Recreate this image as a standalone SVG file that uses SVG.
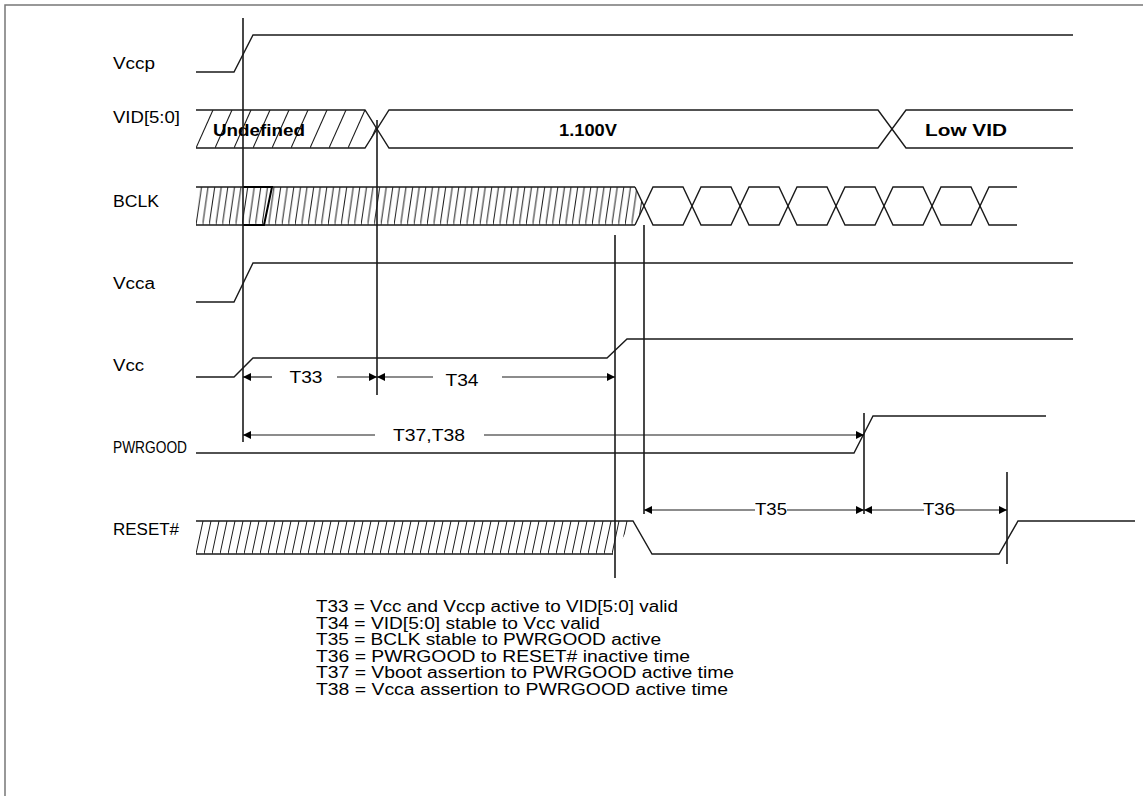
<svg xmlns="http://www.w3.org/2000/svg" width="1143" height="796" viewBox="0 0 1143 796">
<style>
  .sig{fill:none;stroke:#1a1a1a;stroke-width:1.4}
  .mk{fill:none;stroke:#1a1a1a;stroke-width:1.6}
  .dim{fill:none;stroke:#1a1a1a;stroke-width:1.2}
  .arr{marker-start:url(#ah);}
  .arre{marker-end:url(#ah);}
  text{font-family:"Liberation Sans",Arial,sans-serif;fill:#000}
  .lbl{font-size:16px}
  .val{font-size:17px;font-weight:bold}
  .dl{font-size:16px;text-anchor:middle}
  .leg{font-size:16px}
</style>
<defs>
  <marker id="ah" viewBox="0 0 10 10" refX="10" refY="5" markerWidth="8" markerHeight="8" markerUnits="userSpaceOnUse" orient="auto-start-reverse">
    <path d="M0,0 L10,5 L0,10 z" fill="#000"/>
  </marker>
  <pattern id="hVID" patternUnits="userSpaceOnUse" x="196" y="110" width="19" height="38">
    <line x1="0" y1="38" x2="17" y2="0" stroke="#1a1a1a" stroke-width="1.1"/>
  </pattern>
  <pattern id="hBCLK" patternUnits="userSpaceOnUse" x="196" y="187" width="6.6" height="38">
    <line x1="0" y1="38" x2="5.5" y2="0" stroke="#1a1a1a" stroke-width="1"/>
  </pattern>
  <pattern id="hRST" patternUnits="userSpaceOnUse" x="196" y="521" width="8" height="33">
    <line x1="0" y1="33" x2="7" y2="0" stroke="#1a1a1a" stroke-width="1"/>
  </pattern>
</defs>
<rect x="5" y="5" width="1160" height="810" fill="#fff" stroke="#777" stroke-width="1.5"/>

<g id="Vccp">
  <text class="lbl" x="113" y="69" textLength="42" lengthAdjust="spacingAndGlyphs">Vccp</text>
  <path class="sig" d="M196,72 H234 L253,35 H1073"/>
</g>

<g id="VID">
  <text class="lbl" x="113" y="123" textLength="67" lengthAdjust="spacingAndGlyphs">VID[5:0]</text>
  <polygon points="196,110 365,110 377,129 365,148 196,148" fill="url(#hVID)" stroke="none"/>
  <path class="sig" d="M196,110 H365 L389,148 H878 L906,110 H1073"/>
  <path class="sig" d="M196,148 H365 L389,110 H878 L906,148 H1073"/>
  <text class="val" x="213" y="136" textLength="92" lengthAdjust="spacingAndGlyphs">Undefined</text>
  <text class="val" x="588" y="136" text-anchor="middle" textLength="58" lengthAdjust="spacingAndGlyphs">1.100V</text>
  <text class="val" x="925" y="136" textLength="82" lengthAdjust="spacingAndGlyphs">Low VID</text>
</g>

<g id="BCLK">
  <text class="lbl" x="113" y="207" textLength="46" lengthAdjust="spacingAndGlyphs">BCLK</text>
  <polygon points="196,187 635,187 644,206 635,225 196,225" fill="url(#hBCLK)" stroke="none"/>
  <path class="sig" d="M196,187 H635"/>
  <path class="sig" d="M196,225 H635"/>
  <path fill="none" stroke="#000" stroke-width="2" d="M243,187 H272 L264,225 H243"/>
  <path class="sig" d="M635,187 L653,225 H683 L701,187 H731 L749,225 H779 L797,187 H827 L845,225 H875 L893,187 H923 L941,225 H971 L989,187 H1017"/>
  <path class="sig" d="M635,225 L653,187 H683 L701,225 H731 L749,187 H779 L797,225 H827 L845,187 H875 L893,225 H923 L941,187 H971 L989,225 H1017"/>
</g>

<g id="Vcca">
  <text class="lbl" x="113" y="289" textLength="42" lengthAdjust="spacingAndGlyphs">Vcca</text>
  <path class="sig" d="M196,302 H234 L253,263 H1073"/>
</g>

<g id="Vcc">
  <text class="lbl" x="113" y="371" textLength="31" lengthAdjust="spacingAndGlyphs">Vcc</text>
  <path class="sig" d="M196,377 H234 L253,358 H607 L627,339 H1073"/>
</g>

<g id="PWRGOOD">
  <text class="lbl" x="113" y="453" textLength="74" lengthAdjust="spacingAndGlyphs">PWRGOOD</text>
  <path class="sig" d="M196,453 H854 L873,416 H1046"/>
</g>

<g id="RESET">
  <text class="lbl" x="113" y="535" textLength="66" lengthAdjust="spacingAndGlyphs">RESET#</text>
  <polygon points="196,521 633,521 613,554 196,554" fill="url(#hRST)" stroke="none"/>
  <path class="sig" d="M196,521 H633 L652,554 H999 L1018,521 H1135"/>
  <path class="sig" d="M196,554 H613"/>
</g>

<g id="markers">
  <line class="mk" x1="243" y1="18" x2="243" y2="442"/>
  <line class="mk" x1="377" y1="120" x2="377" y2="395"/>
  <line class="mk" x1="615" y1="235" x2="615" y2="578"/>
  <line class="mk" x1="644" y1="225" x2="644" y2="514"/>
  <line class="mk" x1="864" y1="413" x2="864" y2="514"/>
  <line class="mk" x1="1007" y1="472" x2="1007" y2="564"/>
</g>

<g id="connectors">
  <line class="dim arr" x1="243" y1="377" x2="272" y2="377"/>
  <line class="dim arre" x1="337" y1="377" x2="377" y2="377"/>
  <line class="dim arr" x1="377" y1="377" x2="433" y2="377"/>
  <line class="dim arre" x1="502" y1="377" x2="615" y2="377"/>
  <line class="dim arr" x1="243" y1="435" x2="375" y2="435"/>
  <line class="dim arre" x1="484" y1="435" x2="864" y2="435"/>
  <line class="dim arr" x1="644" y1="510" x2="755" y2="510"/>
  <line class="dim arre" x1="787" y1="510" x2="864" y2="510"/>
  <line class="dim arr" x1="864" y1="510" x2="924" y2="510"/>
  <line class="dim arre" x1="954" y1="510" x2="1007" y2="510"/>
</g>

<g id="dimlabels">
  <text class="dl" x="306" y="383" textLength="33" lengthAdjust="spacingAndGlyphs">T33</text>
  <text class="dl" x="462" y="386" textLength="33" lengthAdjust="spacingAndGlyphs">T34</text>
  <text class="dl" x="429" y="441" textLength="72" lengthAdjust="spacingAndGlyphs">T37,T38</text>
  <text class="dl" x="771" y="515" textLength="32" lengthAdjust="spacingAndGlyphs">T35</text>
  <text class="dl" x="939" y="515" textLength="32" lengthAdjust="spacingAndGlyphs">T36</text>
</g>

<g id="legend">
  <text class="leg" x="316" y="612" textLength="362" lengthAdjust="spacingAndGlyphs">T33 = Vcc and Vccp active to VID[5:0] valid</text>
  <text class="leg" x="316" y="629" textLength="284" lengthAdjust="spacingAndGlyphs">T34 = VID[5:0] stable to Vcc valid</text>
  <text class="leg" x="316" y="645" textLength="345" lengthAdjust="spacingAndGlyphs">T35 = BCLK stable to PWRGOOD active</text>
  <text class="leg" x="316" y="662" textLength="374" lengthAdjust="spacingAndGlyphs">T36 = PWRGOOD to RESET# inactive time</text>
  <text class="leg" x="316" y="678" textLength="418" lengthAdjust="spacingAndGlyphs">T37 = Vboot assertion to PWRGOOD active time</text>
  <text class="leg" x="316" y="695" textLength="412" lengthAdjust="spacingAndGlyphs">T38 = Vcca assertion to PWRGOOD active time</text>
</g>
</svg>
